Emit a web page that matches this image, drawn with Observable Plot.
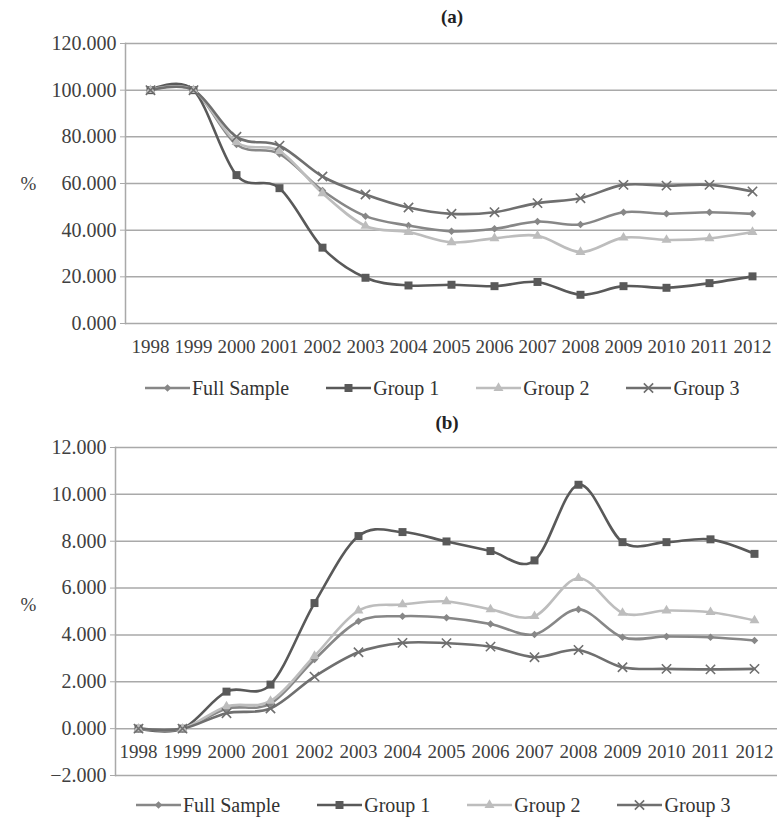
<!DOCTYPE html>
<html>
<head>
<meta charset="utf-8">
<script src="https://cdn.jsdelivr.net/npm/d3@7"></script>
<script src="https://cdn.jsdelivr.net/npm/@observablehq/plot@0.6"></script>
<style>
  body { margin: 0; background: #fff; }
  #root { position: relative; width: 777px; height: 818px; font-family: "Liberation Serif", "Times New Roman", serif; color: #404040; overflow: hidden; }
  .title { position: absolute; font-weight: bold; font-size: 19px; color: #222; transform: translateX(-50%); line-height: 20px; }
  .panel { position: absolute; left: 0; }
  .legend { position: absolute; display: flex; align-items: center; gap: 37px; font-size: 20px; line-height: 22px; color: #333; }
  .legend .item { display: flex; align-items: center; gap: 2px; }
</style>
</head>
<body>
<div id="root"></div>
<script>
// ---- data ----
const years = [1998, 1999, 2000, 2001, 2002, 2003, 2004, 2005, 2006, 2007, 2008, 2009, 2010, 2011, 2012];
const seriesNames = ["Full Sample", "Group 1", "Group 2", "Group 3"];

// Panel (a)
const aFull   = [100, 100, 76.7, 72.7, 57.0, 46.0, 42.0, 39.5, 40.6, 43.7, 42.4, 47.7, 47.0, 47.7, 47.0];
const aGroup1 = [100, 100, 63.6, 58.0, 32.5, 19.6, 16.3, 16.6, 16.0, 17.8, 12.3, 16.0, 15.3, 17.3, 20.2];
const aGroup2 = [100, 100, 77.7, 73.9, 55.8, 41.8, 39.2, 34.8, 36.5, 37.6, 30.6, 36.8, 35.8, 36.5, 39.2];
const aGroup3 = [100, 100, 80.0, 76.2, 63.0, 55.3, 49.7, 47.0, 47.7, 51.6, 53.7, 59.4, 59.1, 59.4, 56.6];
const aTicks  = [0, 20, 40, 60, 80, 100, 120];

// Panel (b)
const bFull   = [0, 0, 0.85, 1.07, 2.95, 4.58, 4.80, 4.73, 4.47, 4.02, 5.09, 3.90, 3.93, 3.90, 3.76];
const bGroup1 = [0, 0, 1.58, 1.88, 5.36, 8.22, 8.39, 7.99, 7.58, 7.18, 10.41, 7.96, 7.96, 8.08, 7.46];
const bGroup2 = [0, 0, 0.95, 1.18, 3.10, 5.04, 5.30, 5.43, 5.09, 4.80, 6.42, 4.94, 5.04, 4.97, 4.62];
const bGroup3 = [0, 0, 0.66, 0.86, 2.22, 3.26, 3.66, 3.65, 3.50, 3.05, 3.36, 2.62, 2.55, 2.53, 2.55];
const bTicks  = [-2, 0, 2, 4, 6, 8, 10, 12];

// ---- styles ----
const seriesColors  = ["#878787", "#595959", "#bdbdbd", "#6f6f6f"];
const seriesSymbols = ["diamond2", "square", "triangle", "times"];
const seriesR       = [3.4, 4.5, 3.7, 4.3];
const gridColor = "#a9a9a9";
const fmt = d3.format(".3f");

function toRows(lists) {
  const rows = [];
  lists.forEach((vals, i) => vals.forEach((v, j) => rows.push({series: seriesNames[i], year: years[j], value: v})));
  return rows;
}

function makePanel(lists, ticks, cfg) {
  const rows = toRows(lists);
  const marks = [
    Plot.ruleY(ticks, {stroke: gridColor, strokeWidth: 1.5}),
    Plot.frame({anchor: "left", stroke: gridColor, strokeWidth: 1.5}),
    Plot.axisY(ticks, {label: null, tickFormat: fmt, tickSize: 5, tickPadding: 4, stroke: gridColor, fill: "#404040", fontSize: 20}),
    Plot.text(years, {x: d => d, y: () => 0, dy: cfg.yearDy, text: d => String(d), fill: "#404040", fontSize: 19}),
    Plot.text(["%"], {frameAnchor: "left", dx: cfg.pctDx, dy: cfg.pctDy, text: d => d, fill: "#404040", fontSize: 19})
  ];
  seriesNames.forEach((name, i) => {
    const data = rows.filter(r => r.series === name);
    marks.push(Plot.line(data, {x: "year", y: "value", stroke: seriesColors[i], strokeWidth: 2.6, curve: "cardinal"}));
  });
  seriesNames.forEach((name, i) => {
    const data = rows.filter(r => r.series === name);
    if (seriesSymbols[i] === "times") {
      marks.push(Plot.dot(data, {x: "year", y: "value", symbol: "times", r: seriesR[i], stroke: seriesColors[i], strokeWidth: 1.6, fill: "none"}));
    } else {
      marks.push(Plot.dot(data, {x: "year", y: "value", symbol: seriesSymbols[i], r: seriesR[i], fill: seriesColors[i], stroke: "none"}));
    }
  });
  return Plot.plot({
    width: 777,
    height: cfg.height,
    marginTop: cfg.mt,
    marginBottom: cfg.mb,
    marginLeft: cfg.ml,
    marginRight: 0,
    style: {fontFamily: '"Liberation Serif", "Times New Roman", serif', fontSize: "19px", background: "transparent", overflow: "visible"},
    x: {type: "point", domain: years, padding: 0.5, axis: null},
    y: {domain: [ticks[0], ticks[ticks.length - 1]], axis: null, label: null},
    marks
  });
}

function makeLegend(left, top) {
  const div = document.createElement("div");
  div.className = "legend";
  div.style.left = left + "px";
  div.style.top = top + "px";
  const symbolTypes = {diamond2: d3.symbolDiamond2, square: d3.symbolSquare, triangle: d3.symbolTriangle, times: d3.symbolTimes};
  seriesNames.forEach((name, i) => {
    const item = document.createElement("div");
    item.className = "item";
    const svg = d3.create("svg").attr("width", 45).attr("height", 14);
    svg.append("line").attr("x1", 0).attr("x2", 45).attr("y1", 7).attr("y2", 7)
      .attr("stroke", seriesColors[i]).attr("stroke-width", 2.6);
    const size = Math.PI * seriesR[i] * seriesR[i];
    const path = d3.symbol(symbolTypes[seriesSymbols[i]], size)();
    const p = svg.append("path").attr("d", path).attr("transform", "translate(22.5,7)");
    if (seriesSymbols[i] === "times") p.attr("fill", "none").attr("stroke", seriesColors[i]).attr("stroke-width", 1.6);
    else p.attr("fill", seriesColors[i]);
    item.appendChild(svg.node());
    const span = document.createElement("span");
    span.textContent = name;
    item.appendChild(span);
    div.appendChild(item);
  });
  return div;
}

const root = document.getElementById("root");

const tA = document.createElement("div");
tA.className = "title"; tA.textContent = "(a)";
tA.style.left = "452px"; tA.style.top = "7px";
root.appendChild(tA);

const pA = makePanel([aFull, aGroup1, aGroup2, aGroup3], aTicks, {height: 340, mt: 13, mb: 47, ml: 125, yearDy: 23, pctDx: -105, pctDy: 0});
pA.classList.add("panel"); pA.style.top = "30px";
root.appendChild(pA);

root.appendChild(makeLegend(145, 377));

const tB = document.createElement("div");
tB.className = "title"; tB.textContent = "(b)";
tB.style.left = "447px"; tB.style.top = "413px";
root.appendChild(tB);

const pB = makePanel([bFull, bGroup1, bGroup2, bGroup3], bTicks, {height: 350, mt: 12, mb: 10, ml: 115, yearDy: 23, pctDx: -95, pctDy: -7});
pB.classList.add("panel"); pB.style.top = "435px";
root.appendChild(pB);

root.appendChild(makeLegend(136, 794));
</script>
</body>
</html>
